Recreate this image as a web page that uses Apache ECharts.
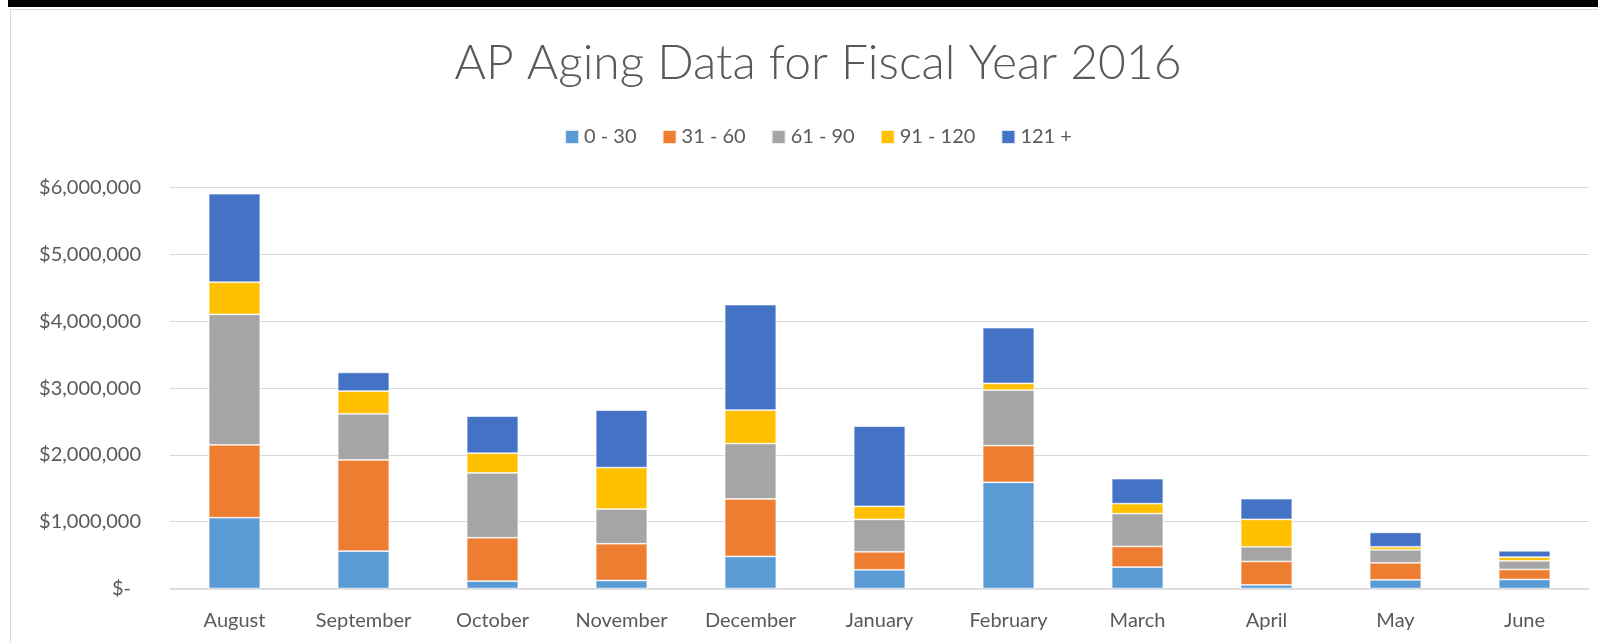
<!DOCTYPE html>
<html>
<head>
<meta charset="utf-8">
<script src="https://cdn.jsdelivr.net/npm/echarts@6/dist/echarts.min.js"></script>
<style>
  html, body { margin:0; padding:0; width:1598px; height:642px; overflow:hidden; background:#fff; }
  #topbar { position:absolute; left:8px; top:0; width:1590px; height:7px; background:#000; }
  #frame { position:absolute; left:10px; top:9px; width:1600px; height:640px; border-left:1px solid #d9d9d9; border-top:1px solid #d9d9d9; pointer-events:none; z-index:2; }
  #chart { position:absolute; left:10px; top:9px; width:1616px; height:633px; }
</style>
</head>
<body>
<div id="topbar"></div>
<div id="frame"></div>
<div id="chart"></div>
<script>
const categories = ['August','September','October','November','December','January','February','March','April','May','June'];
const seriesNames = ['0 - 30','31 - 60','61 - 90','91 - 120','121 +'];
const d0_30    = [1060000, 560000, 110000, 120000, 480000, 280000, 1590000, 320000,  55000, 130000, 135000];
const d31_60   = [1090000,1365000, 650000, 550000, 860000, 270000,  550000, 310000, 350000, 255000, 150000];
const d61_90   = [1955000, 690000, 970000, 520000, 830000, 485000,  830000, 490000, 220000, 195000, 130000];
const d91_120  = [ 480000, 340000, 295000, 620000, 500000, 195000,  100000, 150000, 410000,  45000,  55000];
const d121plus = [1325000, 280000, 555000, 860000,1580000,1200000,  835000, 375000, 310000, 215000,  95000];
const yTicks = [0, 1000000, 2000000, 3000000, 4000000, 5000000, 6000000];
const colors = ['#5B9BD5','#ED7D31','#A5A5A5','#FFC000','#4472C4'];
const allData = [d0_30, d31_60, d61_90, d91_120, d121plus];

const FONT = 'Lato, "Open Sans", sans-serif';
const chart = echarts.init(document.getElementById('chart'));
chart.setOption({
  animation: false,
  title: {
    text: 'AP Aging Data for Fiscal Year 2016',
    left: 'center',
    top: 26,
    textStyle: { fontFamily: FONT, fontSize: 48, fontWeight: 300, color: '#595959' }
  },
  legend: {
    data: seriesNames,
    top: 113,
    left: 'center',
    itemWidth: 14,
    itemHeight: 14,
    itemGap: 25,
    icon: 'rect',
    textStyle: { fontFamily: FONT, fontSize: 20, color: '#595959' }
  },
  grid: { left: 160, right: 37, top: 178.7, bottom: 53.5, containLabel: false },
  xAxis: {
    type: 'category',
    data: categories,
    axisLine: { lineStyle: { color: '#d9d9d9', width: 1.5 } },
    axisTick: { show: false },
    axisLabel: { fontFamily: FONT, fontSize: 20, color: '#595959', margin: 22 }
  },
  yAxis: {
    type: 'value',
    min: yTicks[0],
    max: yTicks[yTicks.length - 1],
    interval: yTicks[1] - yTicks[0],
    axisLine: { show: false },
    axisTick: { show: false },
    splitLine: { lineStyle: { color: '#d9d9d9', width: 1.2 } },
    axisLabel: {
      fontFamily: FONT, fontSize: 20, color: '#595959', margin: 29,
      formatter: function (v) {
        if (v === 0) return '{z|$-}';
        return '$' + v.toLocaleString('en-US');
      },
      rich: { z: { fontFamily: FONT, fontSize: 20, color: '#595959', padding: [0, 10, 0, 0] } }
    }
  },
  series: seriesNames.map(function (name, i) {
    return {
      name: name,
      type: 'bar',
      stack: 'total',
      barWidth: '40%',
      data: allData[i],
      itemStyle: { color: colors[i], borderColor: 'rgba(255,255,255,0.8)', borderWidth: 0.75 }
    };
  })
});
</script>
</body>
</html>
